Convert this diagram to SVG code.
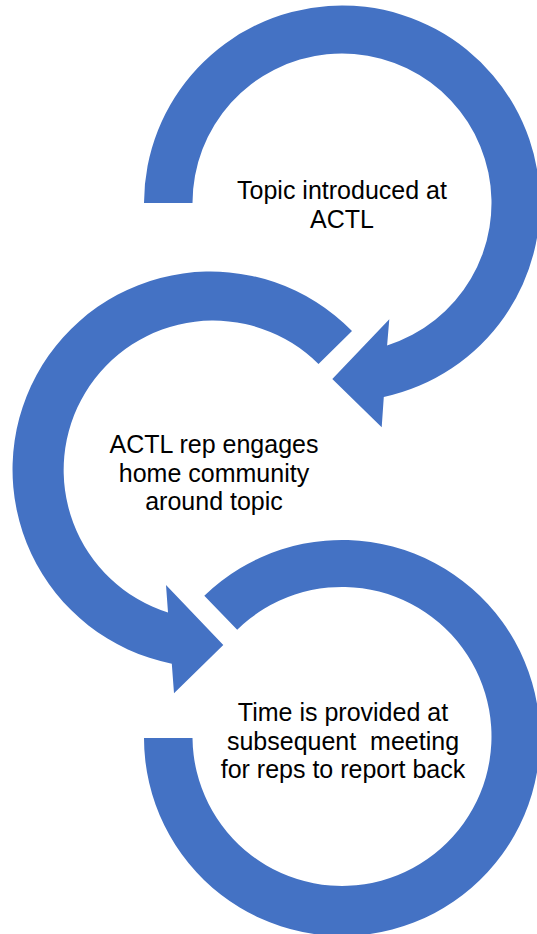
<svg xmlns="http://www.w3.org/2000/svg" width="537" height="934" viewBox="0 0 537 934">
<style>
.ring{fill:#4472C4;stroke:none}
.lbl{font-family:"Liberation Sans",Arial,sans-serif;font-size:25px;fill:#000;text-anchor:middle}
</style>
<rect width="537" height="934" fill="#fff"/>
<g id="connectors">
<path id="arrow1" class="ring" d="M144,203 A198,198 0 1 1 383.8,397 L381.7,427.3 L332.3,379 L389.3,319.3 L387.1,345.5 A149.5,149.5 0 1 0 192.5,203 Z"/>
<path id="arrow2" class="ring" d="M352,331 A198,198 0 1 0 171.8,663.7 L174,693.3 L223.3,645 L166,585 L168,612.6 A149.5,149.5 0 1 1 318.5,364 Z"/>
<path id="arrow3" class="ring" d="M144,738 A198,198 0 1 0 204.3,595.7 L237.2,629.8 A149.5,149.5 0 1 1 192.5,738 Z"/>
</g>
<g id="node1">
<text class="lbl" x="342" y="199">Topic introduced at</text>
<text class="lbl" x="342" y="228">ACTL</text>
</g>
<g id="node2">
<text class="lbl" x="214" y="453">ACTL rep engages</text>
<text class="lbl" x="214" y="482">home community</text>
<text class="lbl" x="214" y="510">around topic</text>
</g>
<g id="node3">
<text class="lbl" x="343" y="721">Time is provided at</text>
<text class="lbl" x="343" y="750" xml:space="preserve">subsequent  meeting</text>
<text class="lbl" x="343" y="778">for reps to report back</text>
</g>
</svg>
